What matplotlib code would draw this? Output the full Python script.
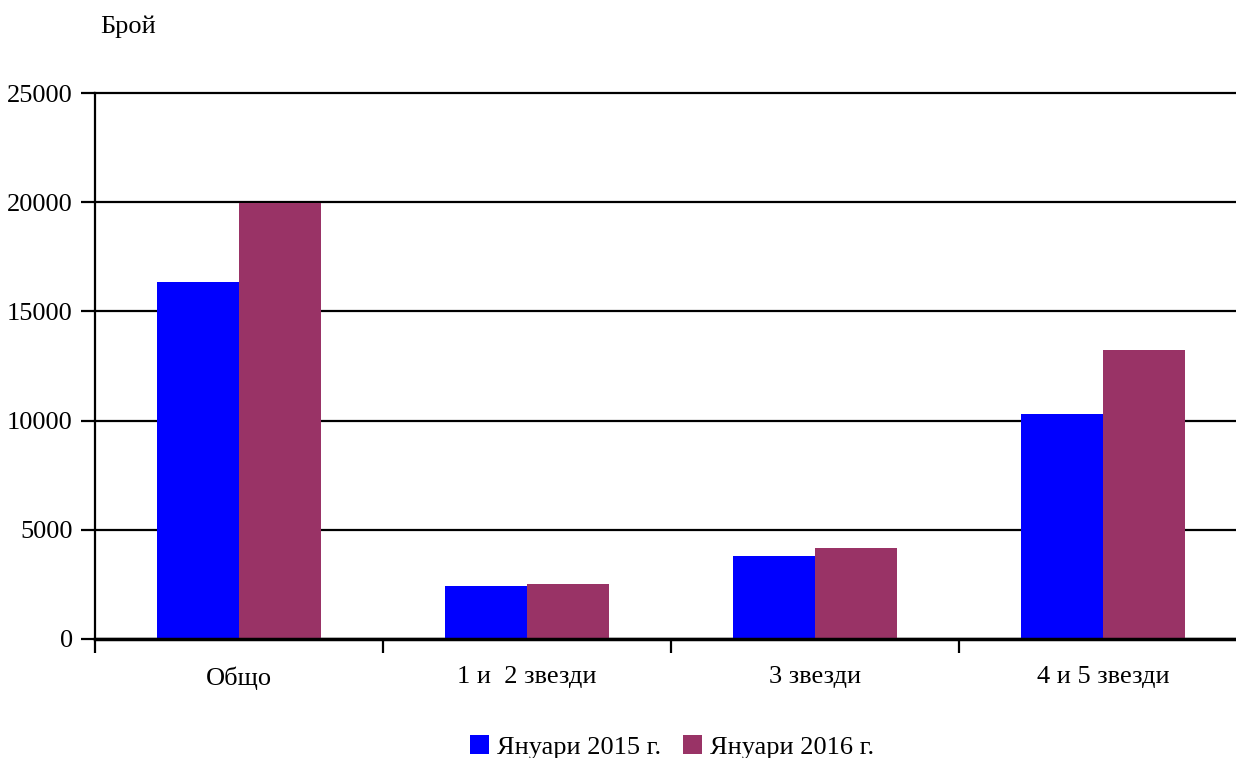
import numpy as np
import matplotlib.pyplot as plt
from matplotlib.ticker import FixedLocator

# data
categories = ["Общо", "1 и  2 звезди", "3 звезди", "4 и 5 звезди"]
jan_2015 = [16350, 2410, 3780, 10300]
jan_2016 = [19970, 2500, 4150, 13230]
series_names = ["Януари 2015 г.", "Януари 2016 г."]
y_ticks = [0, 5000, 10000, 15000, 20000, 25000]

plt.rcParams['font.family'] = ['Liberation Serif', 'DejaVu Serif']

fig = plt.figure(figsize=(12.36, 7.58), dpi=100)
ax = fig.add_axes([95 / 1236, 119.5 / 758, 1152 / 1236, 545 / 758])

x = np.arange(len(categories))
w = 0.285
ax.bar(x - w / 2, jan_2015, w, color="#0000FF", label=series_names[0], zorder=3)
ax.bar(x + w / 2, jan_2016, w, color="#993366", label=series_names[1], zorder=3)

ax.set_xlim(-0.5, len(categories) - 0.5)
ax.set_ylim(0, 25000)
ax.set_yticks(y_ticks)
ax.set_yticklabels([str(v) for v in y_ticks])
ax.yaxis.grid(True, color="black", linewidth=1.6, zorder=0)
ax.set_axisbelow(True)
for gl in ax.get_ygridlines():
    gl.set_clip_on(False)

# category boundaries as tick marks, names in between
ax.xaxis.set_major_locator(FixedLocator(np.arange(-0.5, len(categories), 1.0)))
ax.xaxis.set_minor_locator(FixedLocator(x))
ax.set_xticklabels([], minor=False)
ax.set_xticklabels(categories, minor=True)
ax.tick_params(axis="x", which="major", length=10, width=1.6, direction="out")
ax.tick_params(axis="x", which="minor", length=0, pad=20, labelsize=19)
ax.tick_params(axis="y", length=10, width=1.6, direction="out", pad=6, labelsize=19)

for s in ["top", "right"]:
    ax.spines[s].set_visible(False)
ax.spines["left"].set_linewidth(1.6)
ax.spines["bottom"].set_linewidth(2.5)
ax.spines["bottom"].set_zorder(4)

fig.text(100 / 1236, 1 - 27 / 758, "Брой", fontsize=19, va="center", ha="left")

fig.legend(loc="center", bbox_to_anchor=(672 / 1236, 11 / 758), ncol=2,
           frameon=False, fontsize=19, handlelength=0.75, handleheight=0.75,
           handletextpad=0.3, columnspacing=0.8)

fig.savefig("out.png", dpi=100)
